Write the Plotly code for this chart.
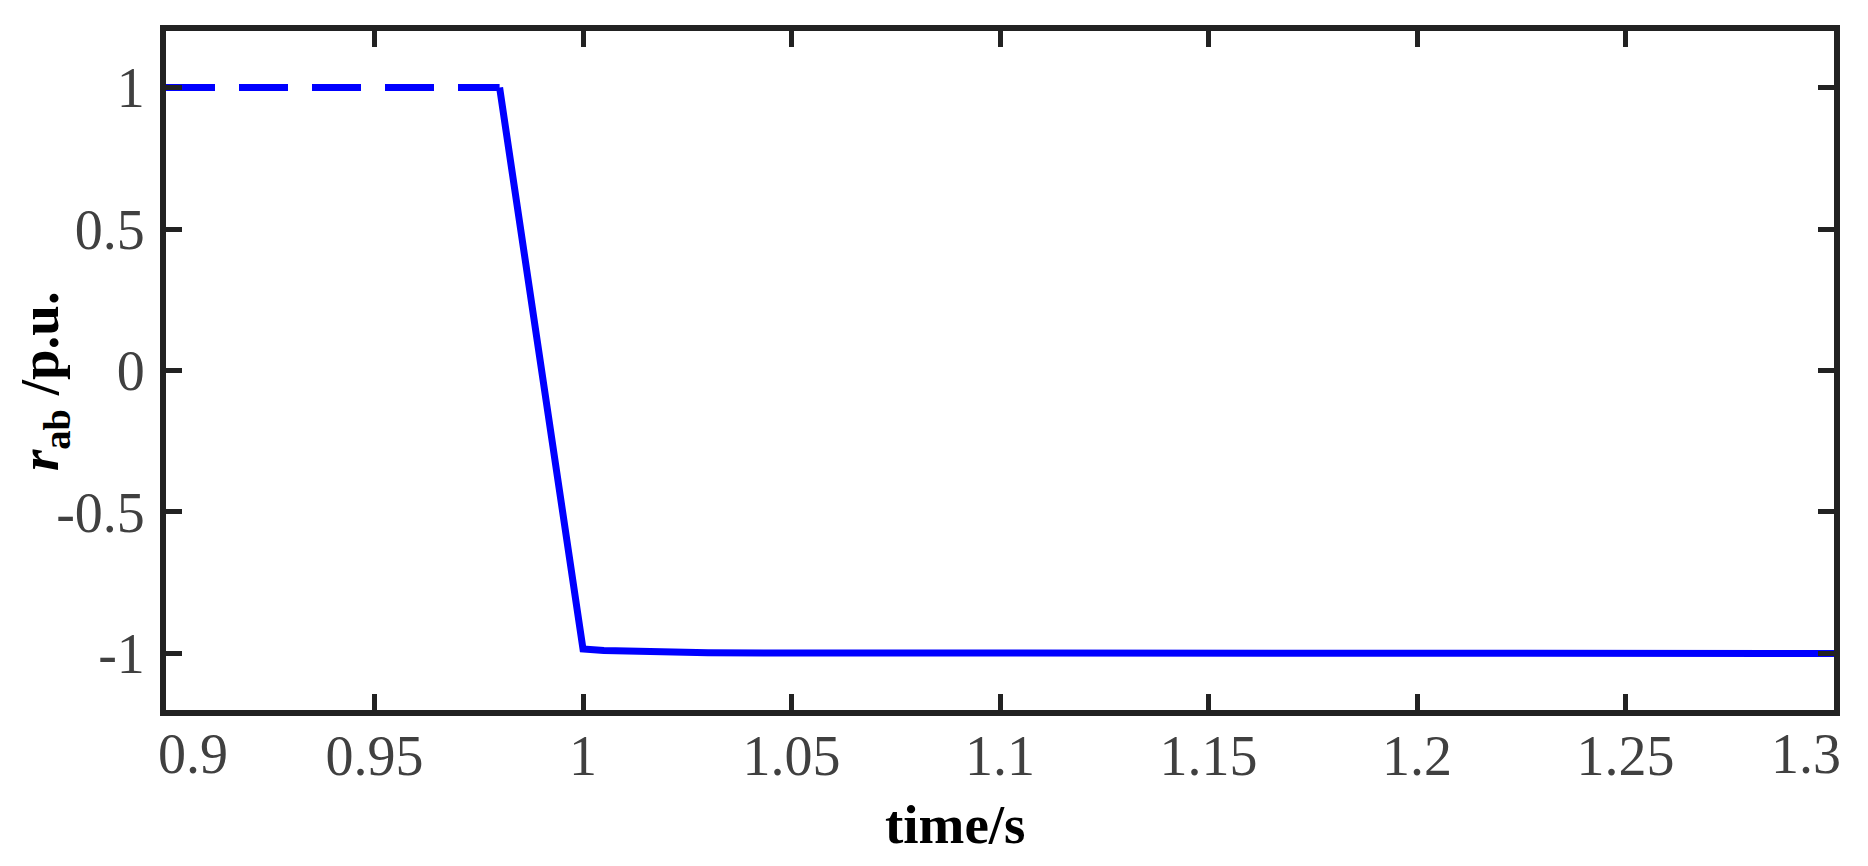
import plotly.graph_objects as go

# pre-fault segment (dashed) and transition/post-fault segment (solid)
t_pre = [0.9, 0.98]
r_pre = [1.0, 1.0]

t_post = [0.98, 1.0, 1.005, 1.016, 1.03, 1.3]
r_post = [1.0, -0.984, -0.99, -0.994, -0.998, -1.0]

x_ticks = [0.9, 0.95, 1.0, 1.05, 1.1, 1.15, 1.2, 1.25, 1.3]
x_labels = ['0.9', '0.95', '1', '1.05', '1.1', '1.15', '1.2', '1.25', '1.3']
y_ticks = [-1, -0.5, 0, 0.5, 1]
y_labels = ['-1', '-0.5', '0', '0.5', '1']

x_title = '<b>time/s</b>'
y_title = '<b><i>r</i><sub>ab</sub> /p.u.</b>'

blue = '#0000ff'
axis_col = '#222222'
serif = 'Liberation Serif, Times New Roman, serif'
tick_font = dict(family=serif, size=56, color='#404040')
title_font = dict(family=serif, size=55, color='#000000')

fig = go.Figure()
fig.add_trace(go.Scatter(x=t_pre, y=r_pre, mode='lines',
                         line=dict(color=blue, width=7, dash='49px,24px'),
                         showlegend=False))
fig.add_trace(go.Scatter(x=t_post, y=r_post, mode='lines',
                         line=dict(color=blue, width=7),
                         showlegend=False))

axis_common = dict(showline=True, linecolor=axis_col, linewidth=6, mirror='ticks',
                   ticks='inside', ticklen=16, tickwidth=5, tickcolor=axis_col,
                   showgrid=False, zeroline=False, tickfont=tick_font,
                   automargin=False)

# the two end labels are drawn separately so they stay inside the frame
inner_text = [''] + x_labels[1:-1] + ['']
fig.update_xaxes(range=[0.9, 1.3], tickvals=x_ticks, ticktext=inner_text,
                 ticklabelstandoff=-8, **axis_common)
fig.update_yaxes(range=[-1.2, 1.2], tickvals=y_ticks, ticktext=y_labels,
                 ticklabelstandoff=4, **axis_common)

fig.add_annotation(text=x_labels[0], x=x_ticks[0], xref='x', y=-0.0648, yref='paper',
                   xanchor='left', yanchor='middle', xshift=-10, showarrow=False,
                   font=tick_font)
fig.add_annotation(text=x_labels[-1], x=x_ticks[-1], xref='x', y=-0.0648, yref='paper',
                   xanchor='right', yanchor='middle', xshift=9, showarrow=False,
                   font=tick_font)

# axis titles as annotations so they sit where the original puts them
fig.add_annotation(text=x_title, xref='paper', yref='paper', x=0.4736, y=-0.168,
                   xanchor='center', yanchor='middle', showarrow=False, font=title_font)
fig.add_annotation(text=y_title, xref='paper', yref='paper', x=-0.0737, y=0.4845,
                   xanchor='center', yanchor='middle', textangle=-90, showarrow=False,
                   font=title_font)

fig.update_layout(width=1868, height=866, plot_bgcolor='white', paper_bgcolor='white',
                  margin=dict(l=166, r=34, t=31, b=156))

fig.write_html("out.html", config={'displayModeBar': False},
               post_script="document.body.style.margin='0';")
